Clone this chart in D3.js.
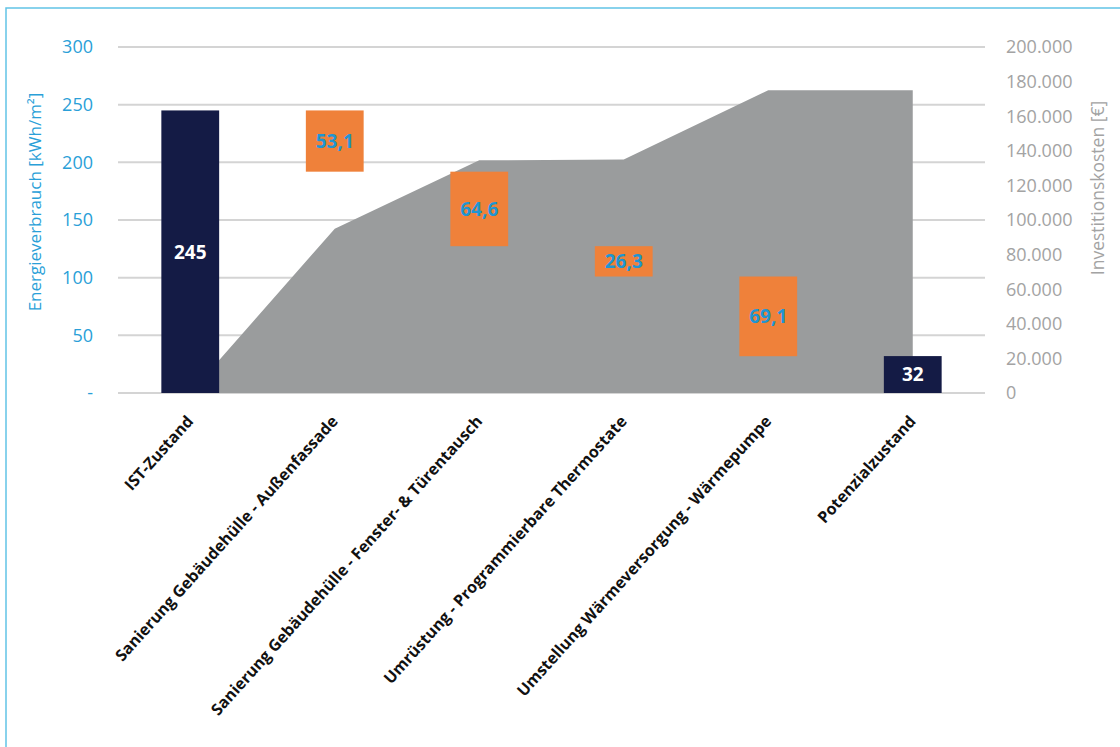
<!DOCTYPE html>
<html><head><meta charset="utf-8">
<script src="https://cdn.jsdelivr.net/npm/d3@7"></script>
<style>
html,body{margin:0;padding:0;background:#fff;}
svg{display:block;font-family:"Open Sans",sans-serif;}
</style></head>
<body><svg id="c" width="1120" height="747"></svg>
<script>
const categories = ["IST-Zustand","Sanierung Gebäudehülle - Außenfassade","Sanierung Gebäudehülle - Fenster- & Türentausch","Umrüstung - Programmierbare Thermostate","Umstellung Wärmeversorgung - Wärmepumpe","Potenzialzustand"];
const energyValues = [245, 53.1, 64.6, 26.3, 69.1, 32];
const barTypes = ["total","saving","saving","saving","saving","total"];
const investment = [0, 95000, 134500, 135000, 175000, 175000];
const leftTicks = [0,50,100,150,200,250,300];
const rightTicks = [0,20000,40000,60000,80000,100000,120000,140000,160000,180000,200000];

const de = d3.formatLocale({decimal:",", thousands:".", grouping:[3], currency:["","€"]});
const fmtThousands = de.format(",d");
const fmtDec = de.format(".1f");

const svg = d3.select("#c");
const W=1120,H=747;
const x0=118, x1=985, yTop=47, yBot=393;

svg.append("rect").attr("x",6).attr("y",8).attr("width",W).attr("height",H)
  .attr("fill","none").attr("stroke","#62c3e6").attr("stroke-width",1.5);

const x = d3.scaleBand().domain(categories).range([x0,x1]).paddingInner(0.6).paddingOuter(0.3);
const y = d3.scaleLinear().domain([0,300]).range([yBot,yTop]);
const y2 = d3.scaleLinear().domain([0,200000]).range([yBot,yTop]);

// gridlines
svg.append("g").selectAll("line").data(leftTicks).join("line")
  .attr("x1",x0).attr("x2",x1).attr("y1",d=>y(d)).attr("y2",d=>y(d))
  .attr("stroke","#d4d4d4").attr("stroke-width",2);

// area (investment)
const cx = d=>x(d)+x.bandwidth()/2;
const areaData = categories.map((c,i)=>({c, v:investment[i]}));
const area = d3.area().x(d=>cx(d.c)).y0(y2(0)).y1(d=>y2(d.v));
svg.append("path").datum(areaData).attr("d",area).attr("fill","#9a9c9d");

// waterfall bars
let running=0;
const bars = categories.map((c,i)=>{
  const v=energyValues[i];
  let lo,hi;
  if(barTypes[i]==="total"){lo=0;hi=v;running=v;}
  else {hi=running;lo=running-v;running=lo;}
  return {c,v,lo,hi,type:barTypes[i]};
});
const g = svg.append("g");
g.selectAll("rect").data(bars).join("rect")
  .attr("x",d=>x(d.c)).attr("width",x.bandwidth())
  .attr("y",d=>y(d.hi)).attr("height",d=>y(d.lo)-y(d.hi))
  .attr("fill",d=>d.type==="total"?"#141b45":"#ef813a");
g.selectAll("text").data(bars).join("text")
  .attr("x",d=>cx(d.c)).attr("y",d=>(y(d.lo)+y(d.hi))/2).attr("dy","0.36em")
  .attr("text-anchor","middle").attr("font-weight","bold").attr("font-size",19)
  .attr("fill",d=>d.type==="total"?"#ffffff":"#2095d2")
  .text(d=>d.type==="total"?de.format("d")(d.v):fmtDec(d.v));

// left axis labels
svg.append("g").selectAll("text").data(leftTicks).join("text")
  .attr("x",93).attr("y",d=>y(d)).attr("dy","0.35em").attr("text-anchor","end")
  .attr("font-size",18).attr("fill","#2a9fd8")
  .text(d=>d===0?"-":d);
// right axis labels
svg.append("g").selectAll("text").data(rightTicks).join("text")
  .attr("x",1006).attr("y",d=>y2(d)).attr("dy","0.35em").attr("text-anchor","start")
  .attr("font-size",18).attr("fill","#a3a3a3")
  .text(d=>fmtThousands(d));

// axis titles
svg.append("text").attr("transform","translate(41,202) rotate(-90)")
  .attr("text-anchor","middle").attr("font-size",17).attr("fill","#2a9fd8")
  .text("Energieverbrauch [kWh/m²]");
svg.append("text").attr("transform","translate(1104,188) rotate(-90)")
  .attr("text-anchor","middle").attr("font-size",17.5).attr("fill","#a3a3a3")
  .text("Investitionskosten [€]");

// x labels
svg.append("g").selectAll("text").data(categories).join("text")
  .attr("transform",d=>`translate(${cx(d)+4},${422}) rotate(-48)`)
  .attr("text-anchor","end").attr("font-size",16).attr("font-weight","bold").attr("fill","#111")
  .text(d=>d);
</script></body></html>
